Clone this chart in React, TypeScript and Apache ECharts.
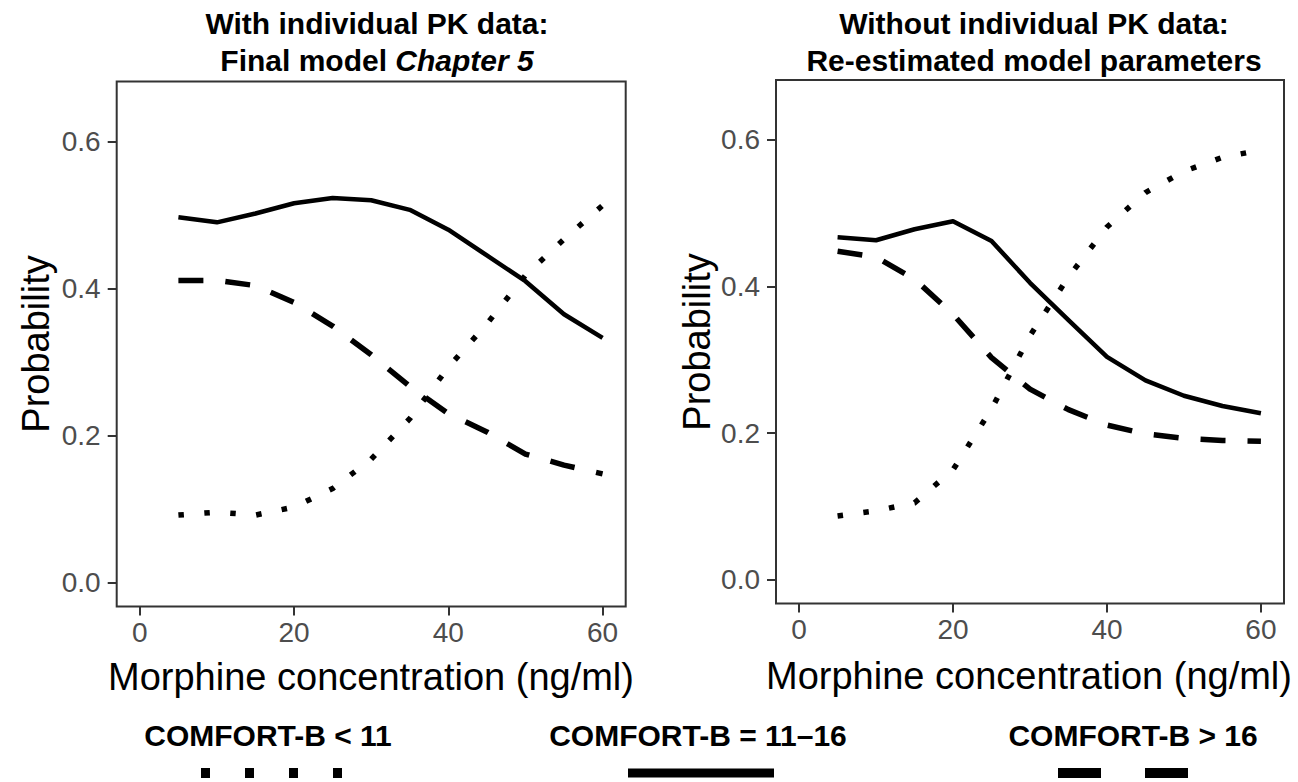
import React, { useEffect, useRef } from "react";
import * as echarts from "echarts";

const FONT = '"Liberation Sans", Arial, sans-serif';

// Morphine concentration (ng/ml)
const concentrations = [5, 10, 15, 20, 25, 30, 35, 40, 45, 50, 55, 60];

// Panel 1: With individual PK data (Final model Chapter 5)
const leftLow = [0.092, 0.096, 0.092, 0.103, 0.128, 0.168, 0.223, 0.293, 0.352, 0.418, 0.467, 0.513];
const leftMid = [0.497, 0.49, 0.502, 0.516, 0.523, 0.52, 0.507, 0.48, 0.445, 0.41, 0.365, 0.333];
const leftHigh = [0.411, 0.411, 0.404, 0.381, 0.349, 0.31, 0.267, 0.23, 0.205, 0.175, 0.16, 0.148];

// Panel 2: Without individual PK data (re-estimated parameters)
const rightLow = [0.087, 0.094, 0.105, 0.15, 0.233, 0.333, 0.413, 0.481, 0.528, 0.557, 0.576, 0.586];
const rightMid = [0.467, 0.463, 0.478, 0.489, 0.462, 0.405, 0.354, 0.304, 0.272, 0.251, 0.237, 0.227];
const rightHigh = [0.448, 0.44, 0.41, 0.362, 0.303, 0.26, 0.232, 0.211, 0.199, 0.193, 0.19, 0.189];

const xTicks = [0, 20, 40, 60];
const yTicks = [0, 0.2, 0.4, 0.6];
const legendLabels = ["COMFORT-B < 11", "COMFORT-B = 11\u201316", "COMFORT-B > 16"];
const titleLine1 = ["With individual PK data:", "Without individual PK data:"];
const xTitle = "Morphine concentration (ng/ml)";
const yTitle = "Probability";

const styles = {
  low: { type: [5.5, 20.5] as number[], width: 5.5 },
  mid: { type: "solid" as any, width: 4.5 },
  high: { type: [25, 22] as number[], width: 5.5 },
};

function makeSeries(vals: number[], idx: number, st: { type: any; width: number }) {
  return {
    type: "line",
    xAxisIndex: idx,
    yAxisIndex: idx,
    data: concentrations.map((c, i) => [c, vals[i]]),
    showSymbol: false,
    symbol: "none",
    silent: true,
    lineStyle: { color: "#000", width: st.width, type: st.type, cap: "butt", join: "round" },
  };
}

function axisX(grid: number) {
  return {
    type: "value",
    gridIndex: grid,
    min: -3,
    max: 63,
    axisLine: { show: false, onZero: false },
    axisTick: { show: true, length: 9, lineStyle: { color: "#333", width: 2 }, customValues: xTicks },
    axisLabel: { customValues: xTicks, fontSize: 28, color: "#4d4d4d", margin: 12, fontFamily: FONT },
    splitLine: { show: false },
  };
}

function axisY(grid: number) {
  return {
    type: "value",
    gridIndex: grid,
    min: -0.0323,
    max: 0.6815,
    axisLine: { show: false, onZero: false },
    axisTick: { show: true, length: 9, lineStyle: { color: "#333", width: 2 }, customValues: yTicks },
    axisLabel: {
      customValues: yTicks,
      fontSize: 28,
      color: "#4d4d4d",
      margin: 16,
      fontFamily: FONT,
      formatter: (v: number) => v.toFixed(1),
    },
    splitLine: { show: false },
  };
}

export default function App() {
  const ref = useRef<HTMLDivElement>(null);
  useEffect(() => {
    if (!ref.current) return;
    const chart = echarts.init(ref.current, null, { renderer: "svg" });
    const txt = (text: string, x: number, y: number, size: number, bold: boolean, extra: any = {}) => ({
      type: "text",
      x,
      y,
      ...extra,
      style: {
        text,
        fontSize: size,
        fontWeight: bold ? "bold" : "normal",
        fontFamily: FONT,
        fill: "#000",
        align: "center",
        verticalAlign: "middle",
      },
    });
    const option: any = {
      animation: false,
      backgroundColor: "#fff",
      grid: [
        { left: 116.7, top: 81.5, width: 509, height: 525, show: true, borderColor: "#333", borderWidth: 2, backgroundColor: "transparent" },
        { left: 776, top: 80, width: 508, height: 523.5, show: true, borderColor: "#333", borderWidth: 2, backgroundColor: "transparent" },
      ],
      xAxis: [axisX(0), axisX(1)],
      yAxis: [axisY(0), axisY(1)],
      series: [
        makeSeries(leftLow, 0, styles.low),
        makeSeries(leftMid, 0, styles.mid),
        makeSeries(leftHigh, 0, styles.high),
        makeSeries(rightLow, 1, styles.low),
        makeSeries(rightMid, 1, styles.mid),
        makeSeries(rightHigh, 1, styles.high),
      ],
      graphic: [
        txt(titleLine1[0], 377, 23, 30, true),
        {
          type: "text",
          x: 377,
          y: 60,
          style: {
            text: "{n|Final model }{i|Chapter 5}",
            align: "center",
            verticalAlign: "middle",
            rich: {
              n: { fontSize: 30, fontWeight: "bold", fontFamily: FONT, fill: "#000", color: "#000" },
              i: { fontSize: 30, fontWeight: "bold", fontStyle: "italic", fontFamily: FONT, fill: "#000", color: "#000" },
            },
          },
        },
        txt(titleLine1[1], 1034, 23, 30, true),
        txt("Re-estimated model parameters", 1034, 60, 30, true),
        txt(yTitle, 36, 344, 38, false, { rotation: Math.PI / 2 }),
        txt(yTitle, 697, 342, 38, false, { rotation: Math.PI / 2 }),
        txt(xTitle, 371, 677, 38, false),
        txt(xTitle, 1029, 676, 38, false),
        txt(legendLabels[0], 268, 735, 30, true),
        txt(legendLabels[1], 698, 735, 30, true),
        txt(legendLabels[2], 1133, 735, 30, true),
        {
          type: "line",
          shape: { x1: 201, y1: 773, x2: 342, y2: 773 },
          style: { stroke: "#000", lineWidth: 10, lineDash: [9, 35], lineCap: "butt" },
        },
        {
          type: "line",
          shape: { x1: 628, y1: 773, x2: 774, y2: 773 },
          style: { stroke: "#000", lineWidth: 9, lineCap: "butt" },
        },
        {
          type: "line",
          shape: { x1: 1058, y1: 773, x2: 1188, y2: 773 },
          style: { stroke: "#000", lineWidth: 10, lineDash: [43, 44], lineCap: "butt" },
        },
      ],
    };
    chart.setOption(option);
    return () => chart.dispose();
  }, []);
  return <div ref={ref} style={{ position: "absolute", left: 0, top: 0, width: 1298, height: 782 }} />;
}
